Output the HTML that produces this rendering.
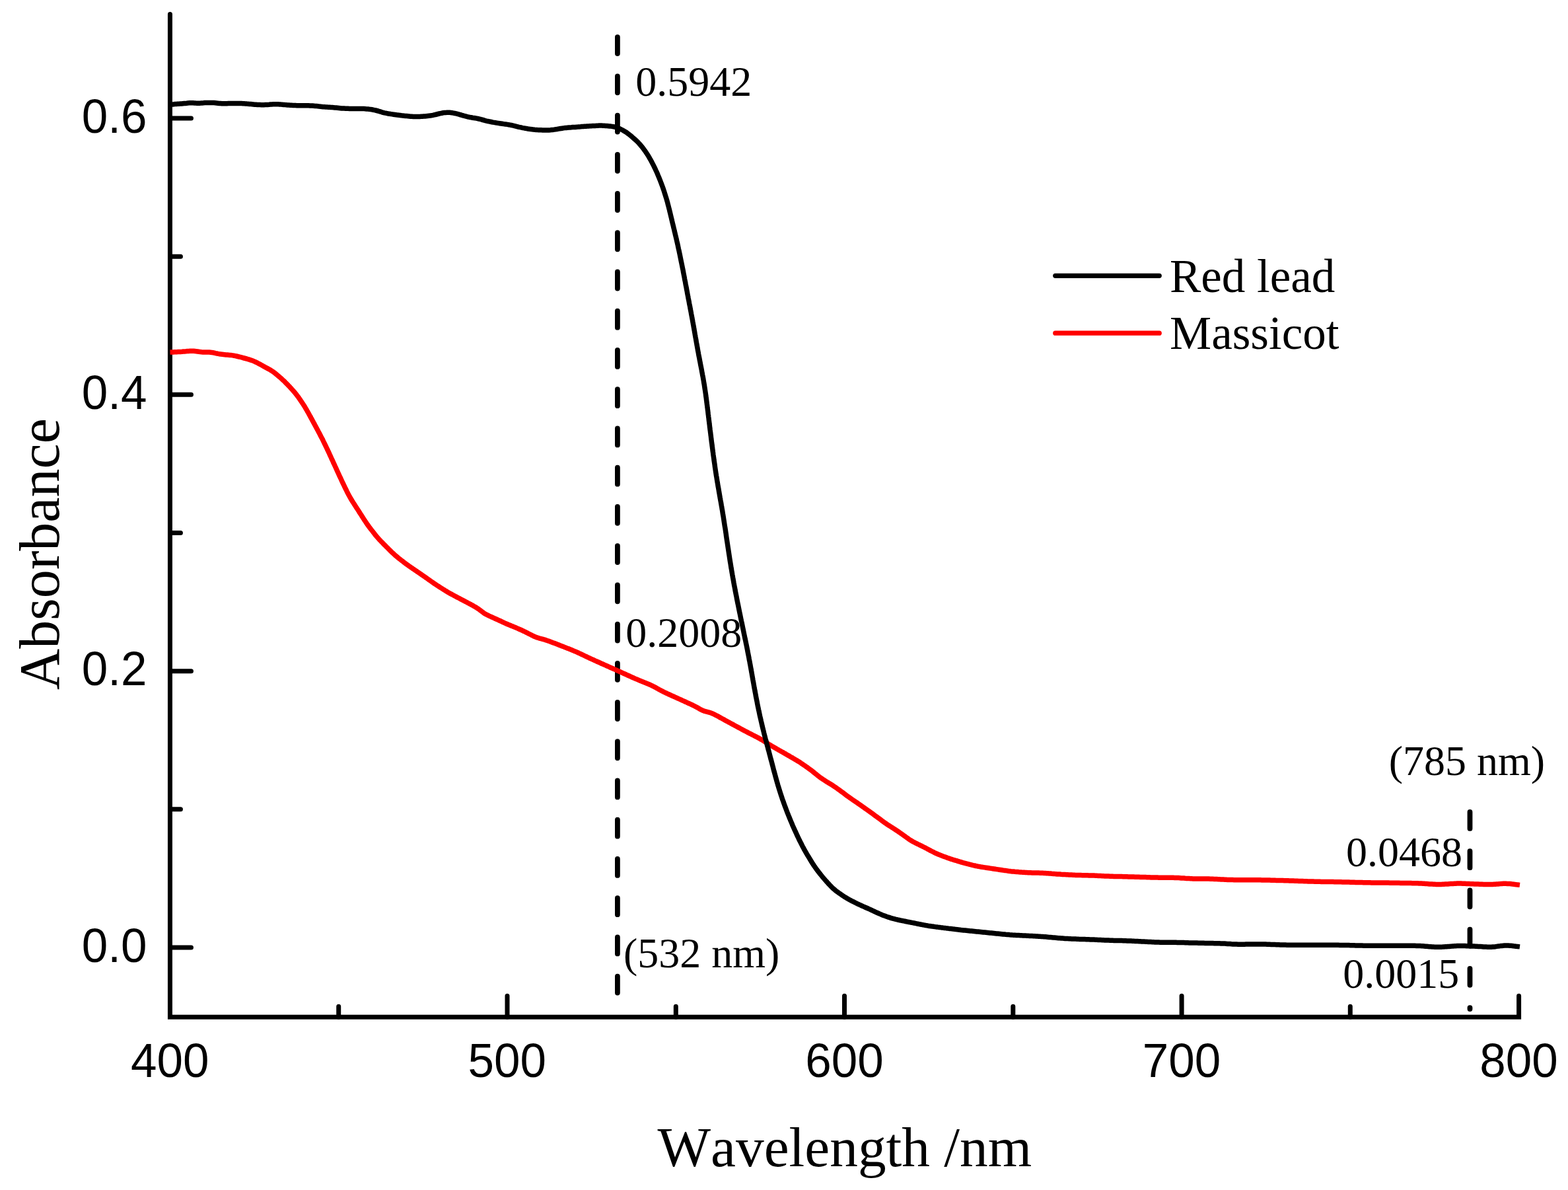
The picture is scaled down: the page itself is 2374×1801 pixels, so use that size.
<!DOCTYPE html>
<html><head><meta charset="utf-8"><title>Absorbance spectra</title>
<style>html,body{margin:0;padding:0;background:#fff;overflow:hidden;}svg{display:block;}text{fill:#000;font-kerning:none;}</style></head>
<body><svg width="2374" height="1801" viewBox="0 0 2374 1801">
<rect width="2374" height="1801" fill="#fff"/>
<path d="M257.45,21.4 L257.45,1539.3 L2299.6,1539.3 L2299.6,1507.3" fill="none" stroke="#000" stroke-width="7" stroke-linecap="round" stroke-linejoin="miter"/>
<path d="M512.7,1539.3 V1523.3 M768.0,1539.3 V1507.3 M1023.3,1539.3 V1523.3 M1278.5,1539.3 V1507.3 M1533.8,1539.3 V1523.3 M1789.1,1539.3 V1507.3 M2044.3,1539.3 V1523.3 M257.45,1434.0 H289.45 M257.45,1224.8 H273.45 M257.45,1015.7 H289.45 M257.45,806.5 H273.45 M257.45,597.3 H289.45 M257.45,388.2 H273.45 M257.45,179.0 H289.45" fill="none" stroke="#000" stroke-width="7" stroke-linecap="round"/>
<path d="M934.9,56.1 V1504" fill="none" stroke="#000" stroke-width="7.8" stroke-linecap="round" stroke-dasharray="25 34.23"/>
<path d="M2225.5,1228.9 V1527" fill="none" stroke="#000" stroke-width="7.8" stroke-linecap="round" stroke-dasharray="25 34.23"/>
<path d="M257.5,533.0 L261.0,532.9 L262.4,532.9 L264.0,532.8 L265.7,532.8 L267.6,532.7 L269.5,532.6 L271.5,532.5 L273.5,532.4 L275.5,532.3 L277.5,532.1 L279.5,531.9 L281.4,531.8 L283.4,531.6 L285.4,531.4 L287.4,531.3 L289.4,531.2 L291.4,531.2 L293.3,531.3 L295.3,531.5 L297.3,531.7 L299.2,532.0 L301.2,532.3 L303.1,532.6 L305.1,532.8 L307.0,532.9 L309.0,533.0 L311.0,533.0 L312.9,532.9 L314.9,532.9 L316.8,533.0 L318.8,533.2 L320.7,533.4 L322.6,533.7 L324.6,534.1 L326.5,534.6 L328.4,535.0 L330.4,535.4 L332.3,535.7 L334.3,536.1 L336.3,536.3 L338.3,536.5 L340.3,536.7 L342.2,536.9 L344.2,537.0 L346.2,537.2 L348.2,537.4 L350.2,537.6 L352.2,537.9 L354.1,538.2 L356.1,538.6 L358.0,539.0 L360.0,539.5 L361.9,540.0 L363.8,540.4 L365.8,540.9 L367.7,541.5 L369.6,542.0 L371.6,542.5 L373.5,543.0 L375.4,543.6 L377.3,544.2 L379.2,544.8 L381.1,545.4 L383.0,546.1 L384.8,546.9 L386.6,547.7 L388.4,548.5 L390.2,549.4 L391.9,550.4 L393.7,551.3 L395.4,552.3 L397.2,553.3 L398.9,554.3 L400.7,555.2 L402.4,556.2 L404.2,557.1 L406.0,558.1 L407.7,559.0 L409.4,560.0 L411.1,561.1 L412.8,562.2 L414.4,563.3 L416.0,564.5 L417.5,565.7 L419.1,567.0 L420.6,568.3 L422.1,569.6 L423.6,570.9 L425.2,572.2 L426.6,573.5 L428.1,574.9 L429.6,576.3 L431.0,577.6 L432.4,579.1 L433.8,580.5 L435.2,581.9 L436.6,583.4 L438.0,584.8 L439.3,586.3 L440.7,587.7 L442.0,589.2 L443.4,590.7 L444.7,592.2 L446.0,593.7 L447.3,595.3 L448.5,596.8 L449.7,598.4 L450.9,600.0 L452.1,601.6 L453.2,603.3 L454.4,604.9 L455.5,606.6 L456.6,608.2 L457.7,609.9 L458.8,611.5 L459.9,613.2 L461.0,614.9 L462.0,616.6 L463.0,618.3 L464.0,620.0 L465.0,621.8 L466.0,623.5 L467.0,625.3 L467.9,627.0 L468.9,628.8 L469.9,630.5 L470.8,632.3 L471.8,634.0 L472.7,635.8 L473.7,637.5 L474.6,639.3 L475.6,641.0 L476.5,642.8 L477.5,644.6 L478.4,646.3 L479.4,648.1 L480.3,649.9 L481.3,651.6 L482.2,653.4 L483.1,655.1 L484.1,656.9 L485.0,658.7 L485.9,660.5 L486.8,662.2 L487.8,664.0 L488.7,665.8 L489.5,667.6 L490.4,669.4 L491.3,671.2 L492.2,673.0 L493.0,674.8 L493.9,676.6 L494.8,678.4 L495.6,680.2 L496.5,682.0 L497.3,683.8 L498.2,685.6 L499.0,687.4 L499.8,689.3 L500.7,691.1 L501.5,692.9 L502.3,694.7 L503.2,696.5 L504.0,698.3 L504.8,700.2 L505.7,702.0 L506.5,703.8 L507.3,705.6 L508.2,707.4 L509.0,709.3 L509.8,711.1 L510.6,712.9 L511.5,714.7 L512.3,716.5 L513.1,718.4 L514.0,720.2 L514.8,722.0 L515.7,723.8 L516.5,725.6 L517.3,727.4 L518.2,729.2 L519.0,731.0 L519.9,732.8 L520.8,734.6 L521.6,736.4 L522.5,738.2 L523.4,740.0 L524.3,741.8 L525.1,743.6 L526.0,745.4 L527.0,747.2 L527.9,748.9 L528.9,750.7 L529.8,752.4 L530.8,754.1 L531.8,755.9 L532.9,757.6 L533.9,759.3 L535.0,761.0 L536.1,762.6 L537.1,764.3 L538.2,766.0 L539.3,767.7 L540.4,769.4 L541.5,771.0 L542.6,772.7 L543.6,774.4 L544.7,776.1 L545.8,777.8 L546.9,779.4 L547.9,781.1 L549.0,782.8 L550.1,784.5 L551.2,786.2 L552.3,787.9 L553.4,789.5 L554.5,791.2 L555.6,792.8 L556.8,794.5 L557.9,796.1 L559.1,797.7 L560.3,799.3 L561.5,800.9 L562.8,802.5 L564.0,804.0 L565.2,805.6 L566.5,807.2 L567.7,808.8 L568.9,810.3 L570.2,811.9 L571.5,813.4 L572.8,814.9 L574.1,816.4 L575.5,817.8 L576.9,819.3 L578.3,820.7 L579.7,822.1 L581.1,823.6 L582.5,825.0 L583.9,826.4 L585.3,827.8 L586.7,829.2 L588.1,830.6 L589.6,832.1 L591.0,833.5 L592.4,834.9 L593.8,836.2 L595.3,837.6 L596.8,839.0 L598.3,840.3 L599.8,841.6 L601.3,842.9 L602.8,844.2 L604.4,845.4 L606.0,846.7 L607.5,847.9 L609.1,849.1 L610.7,850.3 L612.3,851.6 L613.9,852.8 L615.5,853.9 L617.1,855.1 L618.7,856.3 L620.4,857.4 L622.0,858.6 L623.7,859.7 L625.3,860.8 L627.0,861.9 L628.6,863.1 L630.3,864.2 L631.9,865.3 L633.6,866.4 L635.2,867.6 L636.9,868.7 L638.5,869.8 L640.2,871.0 L641.8,872.1 L643.5,873.2 L645.1,874.4 L646.7,875.5 L648.4,876.7 L650.0,877.9 L651.6,879.0 L653.3,880.2 L654.9,881.3 L656.5,882.5 L658.2,883.6 L659.8,884.7 L661.5,885.8 L663.2,886.9 L664.9,888.0 L666.6,889.1 L668.2,890.1 L669.9,891.2 L671.6,892.3 L673.3,893.3 L675.0,894.4 L676.8,895.4 L678.5,896.4 L680.2,897.4 L681.9,898.4 L683.7,899.4 L685.4,900.3 L687.2,901.3 L689.0,902.2 L690.7,903.1 L692.5,904.1 L694.3,905.0 L696.1,905.9 L697.8,906.9 L699.6,907.8 L701.4,908.7 L703.1,909.7 L704.9,910.6 L706.7,911.5 L708.4,912.5 L710.2,913.4 L712.0,914.3 L713.7,915.3 L715.5,916.2 L717.2,917.2 L719.0,918.2 L720.7,919.2 L722.4,920.3 L724.0,921.4 L725.6,922.5 L727.2,923.7 L728.7,924.9 L730.3,926.1 L731.9,927.3 L733.5,928.4 L735.2,929.4 L736.9,930.3 L738.7,931.2 L740.5,932.1 L742.3,932.9 L744.1,933.7 L746.0,934.5 L747.8,935.4 L749.6,936.2 L751.4,937.0 L753.2,937.8 L755.1,938.7 L756.9,939.5 L758.7,940.3 L760.5,941.2 L762.3,942.0 L764.1,942.9 L766.0,943.7 L767.8,944.5 L769.6,945.3 L771.5,946.0 L773.3,946.8 L775.2,947.6 L777.0,948.3 L778.9,949.1 L780.7,949.8 L782.6,950.6 L784.4,951.4 L786.2,952.2 L788.1,953.0 L789.9,953.8 L791.7,954.7 L793.5,955.5 L795.3,956.4 L797.1,957.3 L798.9,958.2 L800.6,959.1 L802.4,960.0 L804.2,960.9 L806.0,961.8 L807.7,962.7 L809.6,963.5 L811.4,964.2 L813.2,964.9 L815.1,965.5 L817.0,966.1 L819.0,966.6 L820.9,967.1 L822.8,967.7 L824.7,968.2 L826.6,968.8 L828.5,969.5 L830.4,970.1 L832.3,970.8 L834.1,971.5 L836.0,972.2 L837.9,972.9 L839.8,973.6 L841.6,974.3 L843.5,975.0 L845.4,975.7 L847.2,976.5 L849.1,977.2 L851.0,977.9 L852.8,978.6 L854.7,979.4 L856.5,980.1 L858.4,980.9 L860.3,981.6 L862.1,982.3 L864.0,983.1 L865.8,983.8 L867.7,984.6 L869.5,985.4 L871.4,986.1 L873.2,986.9 L875.0,987.7 L876.8,988.6 L878.7,989.4 L880.5,990.3 L882.3,991.1 L884.1,992.0 L885.9,992.9 L887.7,993.7 L889.5,994.6 L891.3,995.4 L893.1,996.3 L894.9,997.1 L896.7,997.9 L898.6,998.7 L900.4,999.6 L902.2,1000.4 L904.0,1001.2 L905.9,1002.0 L907.7,1002.8 L909.5,1003.7 L911.3,1004.5 L913.2,1005.3 L915.0,1006.1 L916.8,1006.9 L918.6,1007.7 L920.5,1008.5 L922.3,1009.4 L924.1,1010.2 L926.0,1011.0 L927.8,1011.8 L929.6,1012.6 L931.4,1013.4 L933.3,1014.2 L935.1,1015.1 L936.9,1015.9 L938.7,1016.7 L940.6,1017.5 L942.4,1018.4 L944.2,1019.2 L946.0,1020.0 L947.8,1020.8 L949.7,1021.7 L951.5,1022.5 L953.3,1023.3 L955.1,1024.1 L957.0,1025.0 L958.8,1025.8 L960.6,1026.6 L962.4,1027.4 L964.3,1028.1 L966.1,1028.9 L968.0,1029.7 L969.8,1030.4 L971.7,1031.2 L973.5,1031.9 L975.4,1032.7 L977.3,1033.4 L979.1,1034.2 L980.9,1034.9 L982.8,1035.7 L984.6,1036.5 L986.4,1037.4 L988.2,1038.2 L990.0,1039.2 L991.8,1040.1 L993.5,1041.1 L995.2,1042.0 L997.0,1043.0 L998.7,1044.0 L1000.5,1044.9 L1002.3,1045.8 L1004.0,1046.8 L1005.8,1047.6 L1007.6,1048.5 L1009.4,1049.3 L1011.3,1050.2 L1013.1,1051.0 L1014.9,1051.8 L1016.7,1052.7 L1018.6,1053.5 L1020.4,1054.3 L1022.2,1055.1 L1024.0,1055.9 L1025.8,1056.8 L1027.7,1057.6 L1029.5,1058.4 L1031.3,1059.2 L1033.1,1060.1 L1035.0,1060.9 L1036.8,1061.7 L1038.6,1062.5 L1040.4,1063.4 L1042.2,1064.2 L1044.1,1065.0 L1045.9,1065.9 L1047.7,1066.7 L1049.5,1067.6 L1051.3,1068.5 L1053.0,1069.4 L1054.8,1070.3 L1056.5,1071.3 L1058.2,1072.3 L1059.9,1073.3 L1061.7,1074.2 L1063.4,1075.0 L1065.2,1075.7 L1067.0,1076.4 L1068.9,1076.9 L1070.8,1077.4 L1072.6,1077.9 L1074.5,1078.4 L1076.4,1079.0 L1078.2,1079.7 L1080.0,1080.5 L1081.8,1081.4 L1083.5,1082.3 L1085.3,1083.2 L1087.1,1084.1 L1088.8,1085.1 L1090.6,1086.1 L1092.3,1087.0 L1094.1,1088.0 L1095.8,1088.9 L1097.6,1089.9 L1099.3,1090.9 L1101.1,1091.8 L1102.8,1092.8 L1104.6,1093.7 L1106.4,1094.7 L1108.1,1095.6 L1109.9,1096.6 L1111.6,1097.6 L1113.4,1098.5 L1115.2,1099.5 L1116.9,1100.4 L1118.7,1101.4 L1120.4,1102.3 L1122.2,1103.3 L1124.0,1104.2 L1125.7,1105.2 L1127.5,1106.1 L1129.3,1107.0 L1131.0,1107.9 L1132.8,1108.9 L1134.6,1109.8 L1136.4,1110.7 L1138.2,1111.6 L1139.9,1112.5 L1141.7,1113.4 L1143.5,1114.3 L1145.3,1115.2 L1147.0,1116.1 L1148.8,1117.1 L1150.5,1118.1 L1152.3,1119.1 L1154.0,1120.1 L1155.7,1121.1 L1157.4,1122.2 L1159.1,1123.2 L1160.8,1124.3 L1162.5,1125.3 L1164.2,1126.4 L1165.9,1127.4 L1167.6,1128.5 L1169.3,1129.5 L1171.1,1130.5 L1172.8,1131.5 L1174.5,1132.5 L1176.2,1133.5 L1178.0,1134.5 L1179.7,1135.5 L1181.5,1136.5 L1183.2,1137.5 L1184.9,1138.4 L1186.7,1139.4 L1188.4,1140.4 L1190.2,1141.4 L1191.9,1142.4 L1193.6,1143.4 L1195.4,1144.4 L1197.1,1145.4 L1198.8,1146.4 L1200.6,1147.4 L1202.3,1148.4 L1204.0,1149.4 L1205.7,1150.4 L1207.4,1151.5 L1209.1,1152.6 L1210.8,1153.6 L1212.5,1154.7 L1214.1,1155.9 L1215.8,1157.0 L1217.4,1158.1 L1219.1,1159.2 L1220.7,1160.4 L1222.4,1161.5 L1224.0,1162.7 L1225.6,1163.9 L1227.2,1165.1 L1228.8,1166.3 L1230.4,1167.5 L1231.9,1168.7 L1233.5,1170.0 L1235.0,1171.3 L1236.6,1172.5 L1238.1,1173.8 L1239.7,1175.0 L1241.3,1176.2 L1242.9,1177.4 L1244.6,1178.5 L1246.2,1179.6 L1247.9,1180.7 L1249.6,1181.8 L1251.3,1182.9 L1253.0,1183.9 L1254.7,1185.0 L1256.4,1186.0 L1258.1,1187.1 L1259.8,1188.1 L1261.4,1189.2 L1263.1,1190.3 L1264.8,1191.4 L1266.4,1192.5 L1268.1,1193.7 L1269.7,1194.9 L1271.3,1196.0 L1272.9,1197.2 L1274.5,1198.4 L1276.1,1199.6 L1277.7,1200.8 L1279.3,1202.0 L1280.9,1203.2 L1282.5,1204.4 L1284.1,1205.6 L1285.8,1206.7 L1287.4,1207.9 L1289.0,1209.0 L1290.7,1210.2 L1292.3,1211.3 L1294.0,1212.4 L1295.6,1213.6 L1297.3,1214.7 L1298.9,1215.8 L1300.6,1217.0 L1302.2,1218.1 L1303.9,1219.3 L1305.5,1220.4 L1307.1,1221.6 L1308.8,1222.7 L1310.4,1223.9 L1312.0,1225.0 L1313.7,1226.2 L1315.3,1227.3 L1316.9,1228.5 L1318.5,1229.7 L1320.2,1230.8 L1321.8,1232.0 L1323.4,1233.2 L1325.0,1234.4 L1326.6,1235.6 L1328.2,1236.7 L1329.8,1237.9 L1331.4,1239.1 L1333.0,1240.3 L1334.6,1241.5 L1336.2,1242.7 L1337.9,1243.9 L1339.5,1245.1 L1341.1,1246.2 L1342.8,1247.4 L1344.4,1248.5 L1346.1,1249.6 L1347.8,1250.6 L1349.5,1251.7 L1351.2,1252.7 L1352.9,1253.8 L1354.5,1254.9 L1356.2,1256.0 L1357.9,1257.1 L1359.5,1258.2 L1361.2,1259.4 L1362.8,1260.5 L1364.4,1261.6 L1366.1,1262.8 L1367.7,1264.0 L1369.3,1265.1 L1370.9,1266.3 L1372.6,1267.5 L1374.2,1268.6 L1375.8,1269.8 L1377.5,1270.9 L1379.2,1271.9 L1380.9,1273.0 L1382.6,1274.0 L1384.4,1274.9 L1386.1,1275.8 L1387.9,1276.7 L1389.7,1277.6 L1391.5,1278.4 L1393.3,1279.3 L1395.1,1280.2 L1396.9,1281.1 L1398.7,1282.0 L1400.5,1282.9 L1402.2,1283.8 L1404.0,1284.8 L1405.8,1285.7 L1407.5,1286.6 L1409.3,1287.6 L1411.1,1288.5 L1412.9,1289.4 L1414.6,1290.3 L1416.4,1291.2 L1418.3,1292.0 L1420.1,1292.8 L1421.9,1293.6 L1423.8,1294.3 L1425.6,1295.0 L1427.5,1295.7 L1429.4,1296.4 L1431.3,1297.1 L1433.1,1297.8 L1435.0,1298.5 L1436.9,1299.1 L1438.8,1299.8 L1440.7,1300.4 L1442.6,1301.0 L1444.5,1301.6 L1446.4,1302.2 L1448.4,1302.7 L1450.3,1303.3 L1452.2,1303.9 L1454.1,1304.5 L1456.0,1305.0 L1457.9,1305.6 L1459.9,1306.1 L1461.8,1306.6 L1463.7,1307.1 L1465.7,1307.6 L1467.6,1308.1 L1469.5,1308.6 L1471.5,1309.1 L1473.4,1309.6 L1475.4,1310.0 L1477.3,1310.5 L1479.3,1310.9 L1481.2,1311.3 L1483.2,1311.6 L1485.2,1312.0 L1487.1,1312.3 L1489.1,1312.6 L1491.1,1312.9 L1493.1,1313.2 L1495.1,1313.5 L1497.0,1313.8 L1499.0,1314.1 L1501.0,1314.4 L1503.0,1314.7 L1504.9,1315.0 L1506.9,1315.3 L1508.9,1315.6 L1510.9,1315.9 L1512.9,1316.2 L1514.8,1316.5 L1516.8,1316.8 L1518.8,1317.1 L1520.8,1317.4 L1522.7,1317.6 L1524.7,1317.9 L1526.7,1318.2 L1528.7,1318.4 L1530.7,1318.7 L1532.7,1318.9 L1534.7,1319.1 L1536.6,1319.3 L1538.6,1319.4 L1540.6,1319.6 L1542.6,1319.8 L1544.6,1319.9 L1546.6,1320.1 L1548.6,1320.2 L1550.6,1320.3 L1552.6,1320.5 L1554.6,1320.6 L1556.6,1320.7 L1558.6,1320.8 L1560.6,1320.8 L1562.6,1320.9 L1564.6,1320.9 L1566.6,1321.0 L1568.6,1321.0 L1570.6,1321.1 L1572.6,1321.1 L1574.6,1321.2 L1576.6,1321.2 L1578.6,1321.3 L1580.6,1321.4 L1582.6,1321.5 L1584.6,1321.7 L1586.6,1321.8 L1588.6,1321.9 L1590.5,1322.1 L1592.5,1322.3 L1594.5,1322.4 L1596.5,1322.6 L1598.5,1322.7 L1600.5,1322.9 L1602.5,1323.0 L1604.5,1323.1 L1606.5,1323.3 L1608.5,1323.4 L1610.5,1323.5 L1612.5,1323.6 L1614.5,1323.7 L1616.5,1323.8 L1618.5,1323.9 L1620.5,1324.0 L1622.5,1324.1 L1624.5,1324.2 L1626.5,1324.3 L1628.5,1324.4 L1630.5,1324.4 L1632.5,1324.5 L1634.5,1324.6 L1636.5,1324.6 L1638.5,1324.7 L1640.5,1324.7 L1642.5,1324.7 L1644.5,1324.8 L1646.5,1324.8 L1648.5,1324.9 L1650.5,1324.9 L1652.5,1325.0 L1654.5,1325.1 L1656.5,1325.1 L1658.5,1325.2 L1660.5,1325.3 L1662.5,1325.4 L1664.5,1325.5 L1666.4,1325.6 L1668.4,1325.7 L1670.4,1325.8 L1672.4,1325.9 L1674.4,1326.0 L1676.4,1326.0 L1678.4,1326.1 L1680.4,1326.2 L1682.4,1326.3 L1684.4,1326.3 L1686.4,1326.4 L1688.4,1326.4 L1690.4,1326.5 L1692.4,1326.5 L1694.4,1326.5 L1696.4,1326.6 L1698.4,1326.6 L1700.4,1326.7 L1702.4,1326.7 L1704.4,1326.8 L1706.4,1326.8 L1708.4,1326.9 L1710.4,1326.9 L1712.4,1327.0 L1714.4,1327.0 L1716.4,1327.1 L1718.4,1327.2 L1720.4,1327.2 L1722.4,1327.3 L1724.4,1327.3 L1726.4,1327.4 L1728.4,1327.5 L1730.4,1327.5 L1732.4,1327.6 L1734.4,1327.6 L1736.4,1327.7 L1738.4,1327.8 L1740.4,1327.8 L1742.4,1327.9 L1744.4,1327.9 L1746.4,1328.0 L1748.4,1328.0 L1750.4,1328.1 L1752.4,1328.1 L1754.4,1328.2 L1756.4,1328.2 L1758.4,1328.2 L1760.4,1328.2 L1762.4,1328.2 L1764.4,1328.2 L1766.4,1328.2 L1768.4,1328.3 L1770.4,1328.3 L1772.4,1328.3 L1774.4,1328.3 L1776.4,1328.3 L1778.4,1328.4 L1780.4,1328.4 L1782.4,1328.5 L1784.4,1328.6 L1786.4,1328.7 L1788.4,1328.9 L1790.4,1329.0 L1792.4,1329.1 L1794.4,1329.3 L1796.4,1329.4 L1798.4,1329.5 L1800.4,1329.6 L1802.4,1329.7 L1804.3,1329.8 L1806.3,1329.9 L1808.3,1329.9 L1810.3,1330.0 L1812.3,1330.0 L1814.3,1330.0 L1816.3,1330.0 L1818.3,1330.0 L1820.3,1330.0 L1822.3,1330.0 L1824.3,1330.0 L1826.3,1330.0 L1828.3,1330.1 L1830.3,1330.1 L1832.3,1330.2 L1834.3,1330.3 L1836.3,1330.3 L1838.3,1330.4 L1840.3,1330.5 L1842.3,1330.6 L1844.3,1330.7 L1846.3,1330.8 L1848.3,1330.9 L1850.3,1331.0 L1852.3,1331.1 L1854.3,1331.2 L1856.3,1331.3 L1858.3,1331.4 L1860.3,1331.4 L1862.3,1331.5 L1864.3,1331.6 L1866.3,1331.6 L1868.3,1331.7 L1870.3,1331.7 L1872.3,1331.7 L1874.3,1331.8 L1876.3,1331.8 L1878.3,1331.8 L1880.3,1331.8 L1882.3,1331.8 L1884.3,1331.8 L1886.3,1331.8 L1888.3,1331.8 L1890.3,1331.8 L1892.3,1331.8 L1894.3,1331.8 L1896.3,1331.8 L1898.3,1331.8 L1900.3,1331.8 L1902.3,1331.8 L1904.3,1331.8 L1906.3,1331.8 L1908.3,1331.8 L1910.3,1331.9 L1912.3,1331.9 L1914.3,1331.9 L1916.3,1332.0 L1918.3,1332.0 L1920.3,1332.1 L1922.3,1332.1 L1924.3,1332.2 L1926.3,1332.2 L1928.3,1332.3 L1930.3,1332.3 L1932.3,1332.4 L1934.3,1332.4 L1936.3,1332.5 L1938.3,1332.5 L1940.3,1332.6 L1942.3,1332.6 L1944.3,1332.7 L1946.3,1332.7 L1948.3,1332.8 L1950.3,1332.8 L1952.3,1332.9 L1954.3,1333.0 L1956.3,1333.0 L1958.3,1333.1 L1960.3,1333.2 L1962.3,1333.2 L1964.3,1333.3 L1966.3,1333.4 L1968.3,1333.5 L1970.3,1333.5 L1972.3,1333.6 L1974.3,1333.7 L1976.3,1333.7 L1978.3,1333.8 L1980.3,1333.9 L1982.3,1333.9 L1984.3,1334.0 L1986.3,1334.1 L1988.3,1334.1 L1990.3,1334.2 L1992.3,1334.2 L1994.3,1334.3 L1996.3,1334.3 L1998.3,1334.3 L2000.3,1334.4 L2002.3,1334.4 L2004.3,1334.4 L2006.3,1334.5 L2008.3,1334.5 L2010.3,1334.5 L2012.3,1334.5 L2014.3,1334.6 L2016.3,1334.6 L2018.3,1334.6 L2020.3,1334.7 L2022.3,1334.7 L2024.3,1334.7 L2026.3,1334.8 L2028.3,1334.8 L2030.3,1334.8 L2032.3,1334.9 L2034.3,1334.9 L2036.3,1335.0 L2038.3,1335.0 L2040.3,1335.1 L2042.3,1335.1 L2044.3,1335.2 L2046.3,1335.2 L2048.3,1335.3 L2050.3,1335.3 L2052.3,1335.4 L2054.3,1335.4 L2056.3,1335.5 L2058.3,1335.5 L2060.3,1335.6 L2062.2,1335.6 L2064.2,1335.7 L2066.2,1335.7 L2068.2,1335.8 L2070.2,1335.8 L2072.2,1335.8 L2074.2,1335.8 L2076.2,1335.9 L2078.2,1335.9 L2080.2,1335.9 L2082.2,1335.9 L2084.2,1336.0 L2086.2,1336.0 L2088.2,1336.0 L2090.2,1336.0 L2092.2,1336.0 L2094.2,1336.1 L2096.2,1336.1 L2098.2,1336.1 L2100.2,1336.1 L2102.2,1336.1 L2104.2,1336.2 L2106.2,1336.2 L2108.2,1336.2 L2110.2,1336.2 L2112.2,1336.3 L2114.2,1336.3 L2116.2,1336.3 L2118.2,1336.3 L2120.2,1336.4 L2122.2,1336.4 L2124.2,1336.4 L2126.2,1336.5 L2128.2,1336.5 L2130.2,1336.5 L2132.2,1336.6 L2134.2,1336.6 L2136.2,1336.6 L2138.2,1336.7 L2140.2,1336.7 L2142.2,1336.7 L2144.2,1336.8 L2146.2,1336.8 L2148.2,1336.9 L2150.2,1337.0 L2152.2,1337.1 L2154.2,1337.2 L2156.2,1337.3 L2158.2,1337.5 L2160.2,1337.6 L2162.2,1337.7 L2164.2,1337.9 L2166.2,1338.0 L2168.2,1338.1 L2170.2,1338.2 L2172.2,1338.3 L2174.2,1338.4 L2176.2,1338.5 L2178.2,1338.5 L2180.2,1338.5 L2182.2,1338.4 L2184.2,1338.3 L2186.2,1338.2 L2188.2,1338.1 L2190.1,1338.0 L2192.1,1337.9 L2194.1,1337.7 L2196.1,1337.6 L2198.1,1337.5 L2200.1,1337.4 L2202.1,1337.3 L2204.1,1337.2 L2206.1,1337.1 L2208.1,1337.1 L2210.1,1337.1 L2212.1,1337.1 L2214.1,1337.2 L2216.1,1337.2 L2218.1,1337.3 L2220.1,1337.4 L2222.1,1337.5 L2224.1,1337.6 L2226.1,1337.7 L2228.1,1337.8 L2230.1,1337.8 L2232.1,1337.9 L2234.1,1338.0 L2236.1,1338.1 L2238.1,1338.1 L2240.1,1338.2 L2242.1,1338.3 L2244.1,1338.3 L2246.1,1338.4 L2248.1,1338.5 L2250.1,1338.5 L2252.1,1338.5 L2254.1,1338.6 L2256.1,1338.5 L2258.1,1338.5 L2260.1,1338.4 L2262.0,1338.3 L2264.0,1338.2 L2266.0,1338.0 L2268.0,1337.9 L2270.0,1337.7 L2272.0,1337.6 L2274.0,1337.4 L2276.0,1337.3 L2278.0,1337.3 L2280.0,1337.3 L2282.0,1337.4 L2283.9,1337.5 L2285.9,1337.6 L2287.9,1337.8 L2289.8,1338.1 L2291.7,1338.3 L2293.5,1338.5 L2295.2,1338.7 L2296.7,1338.9 L2298.0,1339.0 L2301.0,1339.4" fill="none" stroke="#ff0000" stroke-width="7.5" stroke-linejoin="round"/>
<path d="M257.0,158.5 L260.5,158.1 L261.9,157.9 L263.4,157.8 L265.2,157.6 L267.0,157.5 L269.0,157.3 L270.9,157.2 L272.9,157.1 L274.9,157.0 L276.9,156.8 L278.8,156.6 L280.8,156.4 L282.7,156.2 L284.6,155.9 L286.6,155.8 L288.5,155.7 L290.4,155.7 L292.3,155.8 L294.3,155.9 L296.2,156.1 L298.2,156.2 L300.1,156.2 L302.1,156.2 L304.0,156.1 L306.0,155.9 L308.0,155.8 L310.0,155.6 L312.0,155.5 L314.0,155.4 L316.0,155.4 L317.9,155.4 L319.9,155.4 L321.9,155.5 L323.9,155.6 L325.9,155.8 L327.9,156.0 L329.8,156.2 L331.8,156.4 L333.8,156.5 L335.8,156.7 L337.7,156.7 L339.7,156.8 L341.7,156.7 L343.7,156.7 L345.7,156.6 L347.7,156.6 L349.7,156.5 L351.7,156.5 L353.7,156.4 L355.7,156.4 L357.7,156.4 L359.7,156.4 L361.7,156.5 L363.7,156.5 L365.7,156.6 L367.7,156.7 L369.7,156.8 L371.7,156.9 L373.7,157.1 L375.7,157.2 L377.7,157.4 L379.7,157.6 L381.6,157.8 L383.6,158.0 L385.6,158.2 L387.6,158.3 L389.6,158.5 L391.6,158.6 L393.6,158.6 L395.6,158.7 L397.6,158.7 L399.6,158.7 L401.6,158.6 L403.6,158.5 L405.5,158.4 L407.5,158.3 L409.5,158.1 L411.5,157.9 L413.5,157.8 L415.5,157.7 L417.5,157.7 L419.4,157.7 L421.4,157.8 L423.4,157.9 L425.4,158.1 L427.4,158.2 L429.4,158.4 L431.4,158.6 L433.4,158.7 L435.4,158.9 L437.4,159.0 L439.4,159.2 L441.4,159.3 L443.4,159.4 L445.3,159.5 L447.3,159.6 L449.3,159.7 L451.3,159.7 L453.3,159.7 L455.3,159.8 L457.3,159.8 L459.3,159.8 L461.3,159.8 L463.3,159.8 L465.3,159.8 L467.3,159.8 L469.3,159.9 L471.3,159.9 L473.3,160.0 L475.3,160.2 L477.3,160.4 L479.3,160.6 L481.2,160.8 L483.2,161.1 L485.2,161.3 L487.2,161.5 L489.2,161.7 L491.2,161.8 L493.2,162.0 L495.1,162.1 L497.1,162.2 L499.1,162.3 L501.1,162.5 L503.1,162.6 L505.1,162.8 L507.1,163.0 L509.1,163.1 L511.1,163.3 L513.1,163.5 L515.1,163.7 L517.1,163.9 L519.1,164.0 L521.1,164.1 L523.0,164.2 L525.0,164.3 L527.0,164.3 L529.0,164.4 L531.0,164.4 L533.0,164.4 L535.0,164.4 L537.0,164.4 L539.0,164.4 L541.0,164.4 L543.0,164.4 L545.0,164.4 L547.0,164.5 L549.0,164.5 L551.0,164.6 L553.0,164.7 L555.0,164.9 L557.0,165.0 L559.0,165.3 L560.9,165.5 L562.9,165.8 L564.9,166.2 L566.8,166.6 L568.8,167.0 L570.7,167.5 L572.6,168.0 L574.5,168.6 L576.4,169.2 L578.2,169.8 L580.1,170.3 L582.1,170.8 L584.0,171.2 L585.9,171.6 L587.9,172.0 L589.9,172.3 L591.8,172.6 L593.8,172.9 L595.8,173.2 L597.8,173.5 L599.8,173.8 L601.7,174.1 L603.7,174.3 L605.7,174.5 L607.7,174.8 L609.7,175.0 L611.7,175.2 L613.7,175.4 L615.6,175.6 L617.6,175.8 L619.6,176.0 L621.6,176.2 L623.6,176.3 L625.6,176.4 L627.6,176.5 L629.6,176.6 L631.6,176.6 L633.6,176.5 L635.6,176.4 L637.6,176.3 L639.5,176.2 L641.5,176.0 L643.5,175.9 L645.5,175.7 L647.5,175.5 L649.5,175.3 L651.5,175.1 L653.4,174.7 L655.4,174.4 L657.3,173.9 L659.2,173.5 L661.1,173.0 L663.1,172.5 L665.0,172.0 L666.9,171.6 L668.9,171.2 L670.9,170.8 L672.8,170.6 L674.8,170.4 L676.7,170.3 L678.7,170.3 L680.7,170.3 L682.6,170.5 L684.6,170.8 L686.6,171.1 L688.5,171.5 L690.5,171.9 L692.4,172.4 L694.3,172.9 L696.2,173.5 L698.2,174.0 L700.1,174.6 L702.0,175.2 L703.9,175.7 L705.8,176.2 L707.7,176.7 L709.7,177.1 L711.6,177.5 L713.6,177.8 L715.6,178.2 L717.6,178.5 L719.5,178.8 L721.5,179.1 L723.4,179.5 L725.4,180.0 L727.3,180.4 L729.2,181.0 L731.1,181.5 L733.0,182.0 L734.9,182.6 L736.9,183.1 L738.8,183.5 L740.7,183.9 L742.7,184.3 L744.7,184.7 L746.6,185.1 L748.6,185.4 L750.6,185.8 L752.5,186.1 L754.5,186.4 L756.5,186.7 L758.5,187.0 L760.5,187.3 L762.4,187.6 L764.4,187.9 L766.4,188.1 L768.4,188.4 L770.3,188.8 L772.3,189.1 L774.3,189.5 L776.2,189.9 L778.1,190.3 L780.1,190.8 L782.0,191.3 L783.9,191.8 L785.9,192.3 L787.8,192.7 L789.8,193.2 L791.7,193.6 L793.7,193.9 L795.6,194.3 L797.6,194.6 L799.6,195.0 L801.6,195.3 L803.5,195.6 L805.5,195.8 L807.5,196.1 L809.5,196.3 L811.5,196.4 L813.5,196.6 L815.4,196.7 L817.4,196.8 L819.4,196.8 L821.4,196.9 L823.4,197.0 L825.4,197.0 L827.4,197.0 L829.4,197.0 L831.4,196.9 L833.4,196.8 L835.4,196.6 L837.4,196.4 L839.3,196.1 L841.3,195.8 L843.3,195.5 L845.2,195.1 L847.2,194.8 L849.2,194.5 L851.1,194.2 L853.1,193.9 L855.1,193.6 L857.1,193.4 L859.1,193.2 L861.1,193.0 L863.1,192.9 L865.1,192.8 L867.0,192.6 L869.0,192.5 L871.0,192.4 L873.0,192.2 L875.0,192.1 L877.0,191.9 L879.0,191.8 L881.0,191.6 L883.0,191.5 L885.0,191.3 L887.0,191.2 L889.0,191.0 L891.0,190.9 L893.0,190.8 L895.0,190.7 L897.0,190.6 L899.0,190.5 L901.0,190.4 L903.0,190.3 L905.0,190.2 L906.9,190.1 L908.9,190.1 L910.9,190.1 L912.9,190.2 L914.9,190.2 L916.9,190.4 L918.9,190.5 L920.9,190.7 L922.9,190.9 L924.8,191.1 L926.8,191.4 L928.7,191.7 L930.7,192.2 L932.6,192.7 L934.4,193.3 L936.3,194.0 L938.1,194.8 L939.9,195.6 L941.7,196.5 L943.5,197.4 L945.2,198.4 L946.9,199.4 L948.6,200.5 L950.2,201.7 L951.8,202.9 L953.3,204.1 L954.9,205.4 L956.4,206.7 L957.9,208.0 L959.4,209.3 L960.9,210.6 L962.4,211.9 L963.9,213.3 L965.3,214.7 L966.7,216.1 L968.0,217.6 L969.4,219.1 L970.6,220.6 L971.9,222.2 L973.1,223.7 L974.3,225.3 L975.5,226.9 L976.7,228.5 L977.8,230.2 L978.9,231.8 L980.0,233.5 L981.1,235.2 L982.1,236.9 L983.1,238.6 L984.1,240.4 L985.1,242.1 L986.0,243.8 L987.0,245.6 L987.9,247.4 L988.8,249.1 L989.7,250.9 L990.6,252.7 L991.5,254.5 L992.3,256.3 L993.1,258.1 L994.0,259.9 L994.8,261.8 L995.6,263.6 L996.3,265.4 L997.1,267.3 L997.9,269.1 L998.6,271.0 L999.4,272.8 L1000.1,274.7 L1000.8,276.5 L1001.5,278.4 L1002.2,280.3 L1002.9,282.1 L1003.6,284.0 L1004.2,285.9 L1004.9,287.8 L1005.5,289.7 L1006.1,291.6 L1006.7,293.5 L1007.3,295.4 L1007.9,297.3 L1008.5,299.2 L1009.1,301.1 L1009.6,303.0 L1010.2,304.9 L1010.7,306.8 L1011.2,308.8 L1011.7,310.7 L1012.2,312.6 L1012.7,314.6 L1013.2,316.5 L1013.7,318.4 L1014.1,320.4 L1014.6,322.3 L1015.1,324.3 L1015.5,326.2 L1016.0,328.2 L1016.5,330.1 L1016.9,332.0 L1017.4,334.0 L1017.8,335.9 L1018.3,337.9 L1018.8,339.8 L1019.3,341.8 L1019.7,343.7 L1020.2,345.6 L1020.7,347.6 L1021.1,349.5 L1021.6,351.5 L1022.1,353.4 L1022.5,355.4 L1023.0,357.3 L1023.5,359.3 L1023.9,361.2 L1024.4,363.2 L1024.8,365.1 L1025.3,367.0 L1025.7,369.0 L1026.2,370.9 L1026.6,372.9 L1027.0,374.9 L1027.4,376.8 L1027.9,378.8 L1028.3,380.7 L1028.7,382.7 L1029.1,384.6 L1029.5,386.6 L1029.9,388.5 L1030.3,390.5 L1030.7,392.5 L1031.1,394.4 L1031.5,396.4 L1031.9,398.3 L1032.3,400.3 L1032.7,402.3 L1033.1,404.2 L1033.5,406.2 L1033.9,408.1 L1034.3,410.1 L1034.6,412.1 L1035.0,414.0 L1035.4,416.0 L1035.8,418.0 L1036.2,419.9 L1036.5,421.9 L1036.9,423.9 L1037.3,425.8 L1037.7,427.8 L1038.0,429.7 L1038.4,431.7 L1038.8,433.7 L1039.2,435.6 L1039.5,437.6 L1039.9,439.6 L1040.3,441.5 L1040.6,443.5 L1041.0,445.5 L1041.4,447.4 L1041.8,449.4 L1042.1,451.4 L1042.5,453.3 L1042.9,455.3 L1043.3,457.3 L1043.6,459.2 L1044.0,461.2 L1044.4,463.1 L1044.8,465.1 L1045.1,467.1 L1045.5,469.0 L1045.9,471.0 L1046.3,473.0 L1046.6,474.9 L1047.0,476.9 L1047.4,478.9 L1047.7,480.8 L1048.1,482.8 L1048.5,484.8 L1048.8,486.7 L1049.2,488.7 L1049.5,490.7 L1049.9,492.6 L1050.2,494.6 L1050.6,496.6 L1050.9,498.5 L1051.3,500.5 L1051.6,502.5 L1052.0,504.5 L1052.3,506.4 L1052.7,508.4 L1053.0,510.4 L1053.4,512.3 L1053.7,514.3 L1054.1,516.3 L1054.4,518.2 L1054.8,520.2 L1055.1,522.2 L1055.5,524.1 L1055.8,526.1 L1056.2,528.1 L1056.5,530.1 L1056.9,532.0 L1057.3,534.0 L1057.6,535.9 L1058.0,537.9 L1058.4,539.9 L1058.8,541.8 L1059.1,543.8 L1059.5,545.8 L1059.9,547.7 L1060.3,549.7 L1060.6,551.7 L1061.0,553.6 L1061.4,555.6 L1061.8,557.6 L1062.2,559.5 L1062.5,561.5 L1062.9,563.4 L1063.3,565.4 L1063.6,567.4 L1064.0,569.3 L1064.4,571.3 L1064.7,573.3 L1065.1,575.2 L1065.4,577.2 L1065.7,579.2 L1066.1,581.2 L1066.4,583.1 L1066.7,585.1 L1067.0,587.1 L1067.3,589.1 L1067.6,591.0 L1067.9,593.0 L1068.2,595.0 L1068.5,597.0 L1068.7,598.9 L1069.0,600.9 L1069.3,602.9 L1069.5,604.9 L1069.8,606.9 L1070.0,608.9 L1070.3,610.8 L1070.5,612.8 L1070.8,614.8 L1071.0,616.8 L1071.3,618.8 L1071.5,620.8 L1071.8,622.8 L1072.0,624.7 L1072.2,626.7 L1072.5,628.7 L1072.7,630.7 L1073.0,632.7 L1073.2,634.7 L1073.4,636.7 L1073.7,638.6 L1073.9,640.6 L1074.2,642.6 L1074.4,644.6 L1074.6,646.6 L1074.9,648.6 L1075.1,650.5 L1075.4,652.5 L1075.6,654.5 L1075.9,656.5 L1076.1,658.5 L1076.4,660.5 L1076.6,662.5 L1076.8,664.4 L1077.1,666.4 L1077.3,668.4 L1077.6,670.4 L1077.9,672.4 L1078.1,674.4 L1078.4,676.3 L1078.6,678.3 L1078.9,680.3 L1079.1,682.3 L1079.4,684.3 L1079.7,686.3 L1079.9,688.2 L1080.2,690.2 L1080.5,692.2 L1080.8,694.2 L1081.0,696.2 L1081.3,698.1 L1081.6,700.1 L1081.9,702.1 L1082.2,704.1 L1082.4,706.1 L1082.7,708.0 L1083.0,710.0 L1083.3,712.0 L1083.6,714.0 L1083.9,716.0 L1084.2,717.9 L1084.5,719.9 L1084.9,721.9 L1085.2,723.9 L1085.5,725.8 L1085.8,727.8 L1086.1,729.8 L1086.5,731.7 L1086.8,733.7 L1087.1,735.7 L1087.5,737.7 L1087.8,739.6 L1088.2,741.6 L1088.5,743.6 L1088.8,745.5 L1089.2,747.5 L1089.5,749.5 L1089.9,751.4 L1090.2,753.4 L1090.6,755.4 L1090.9,757.4 L1091.3,759.3 L1091.6,761.3 L1092.0,763.3 L1092.3,765.2 L1092.7,767.2 L1093.0,769.2 L1093.3,771.1 L1093.7,773.1 L1094.0,775.1 L1094.3,777.1 L1094.6,779.0 L1095.0,781.0 L1095.3,783.0 L1095.6,785.0 L1095.9,786.9 L1096.2,788.9 L1096.5,790.9 L1096.8,792.9 L1097.1,794.8 L1097.4,796.8 L1097.8,798.8 L1098.1,800.8 L1098.4,802.7 L1098.7,804.7 L1099.0,806.7 L1099.3,808.7 L1099.5,810.7 L1099.8,812.6 L1100.1,814.6 L1100.4,816.6 L1100.7,818.6 L1101.0,820.5 L1101.3,822.5 L1101.6,824.5 L1101.9,826.5 L1102.2,828.5 L1102.5,830.4 L1102.8,832.4 L1103.1,834.4 L1103.4,836.4 L1103.7,838.3 L1104.0,840.3 L1104.3,842.3 L1104.6,844.3 L1104.9,846.3 L1105.2,848.2 L1105.5,850.2 L1105.9,852.2 L1106.2,854.2 L1106.5,856.1 L1106.8,858.1 L1107.1,860.1 L1107.5,862.0 L1107.8,864.0 L1108.1,866.0 L1108.5,868.0 L1108.8,869.9 L1109.2,871.9 L1109.5,873.9 L1109.9,875.8 L1110.2,877.8 L1110.6,879.8 L1110.9,881.7 L1111.3,883.7 L1111.6,885.7 L1112.0,887.6 L1112.4,889.6 L1112.8,891.6 L1113.1,893.5 L1113.5,895.5 L1113.9,897.5 L1114.3,899.4 L1114.7,901.4 L1115.1,903.3 L1115.4,905.3 L1115.8,907.3 L1116.2,909.2 L1116.6,911.2 L1117.0,913.2 L1117.4,915.1 L1117.8,917.1 L1118.2,919.0 L1118.6,921.0 L1119.0,923.0 L1119.4,924.9 L1119.8,926.9 L1120.2,928.8 L1120.6,930.8 L1121.0,932.7 L1121.4,934.7 L1121.8,936.7 L1122.2,938.6 L1122.6,940.6 L1123.1,942.5 L1123.5,944.5 L1123.9,946.5 L1124.3,948.4 L1124.7,950.4 L1125.1,952.3 L1125.5,954.3 L1125.9,956.2 L1126.3,958.2 L1126.7,960.2 L1127.1,962.1 L1127.5,964.1 L1127.9,966.0 L1128.4,968.0 L1128.8,970.0 L1129.2,971.9 L1129.6,973.9 L1130.0,975.8 L1130.4,977.8 L1130.8,979.7 L1131.2,981.7 L1131.6,983.7 L1131.9,985.6 L1132.3,987.6 L1132.7,989.6 L1133.1,991.5 L1133.5,993.5 L1133.9,995.4 L1134.2,997.4 L1134.6,999.4 L1135.0,1001.3 L1135.3,1003.3 L1135.7,1005.3 L1136.1,1007.2 L1136.4,1009.2 L1136.8,1011.2 L1137.1,1013.1 L1137.5,1015.1 L1137.8,1017.1 L1138.2,1019.0 L1138.5,1021.0 L1138.9,1023.0 L1139.2,1025.0 L1139.6,1026.9 L1139.9,1028.9 L1140.3,1030.9 L1140.6,1032.8 L1141.0,1034.8 L1141.3,1036.8 L1141.7,1038.7 L1142.0,1040.7 L1142.4,1042.7 L1142.8,1044.6 L1143.1,1046.6 L1143.5,1048.6 L1143.9,1050.5 L1144.2,1052.5 L1144.6,1054.5 L1145.0,1056.4 L1145.4,1058.4 L1145.8,1060.4 L1146.2,1062.3 L1146.5,1064.3 L1146.9,1066.2 L1147.3,1068.2 L1147.7,1070.2 L1148.1,1072.1 L1148.5,1074.1 L1149.0,1076.0 L1149.4,1078.0 L1149.8,1079.9 L1150.2,1081.9 L1150.6,1083.8 L1151.1,1085.8 L1151.5,1087.7 L1152.0,1089.7 L1152.4,1091.6 L1152.9,1093.6 L1153.3,1095.5 L1153.8,1097.5 L1154.2,1099.4 L1154.7,1101.4 L1155.2,1103.3 L1155.7,1105.3 L1156.2,1107.2 L1156.6,1109.1 L1157.1,1111.1 L1157.6,1113.0 L1158.1,1114.9 L1158.6,1116.9 L1159.1,1118.8 L1159.7,1120.7 L1160.2,1122.7 L1160.7,1124.6 L1161.2,1126.5 L1161.7,1128.5 L1162.2,1130.4 L1162.7,1132.3 L1163.2,1134.3 L1163.8,1136.2 L1164.3,1138.1 L1164.8,1140.1 L1165.3,1142.0 L1165.8,1143.9 L1166.3,1145.9 L1166.8,1147.8 L1167.3,1149.7 L1167.9,1151.7 L1168.4,1153.6 L1168.9,1155.5 L1169.4,1157.5 L1169.9,1159.4 L1170.4,1161.3 L1170.9,1163.3 L1171.4,1165.2 L1171.9,1167.1 L1172.5,1169.1 L1173.0,1171.0 L1173.5,1172.9 L1174.0,1174.9 L1174.6,1176.8 L1175.1,1178.7 L1175.6,1180.6 L1176.2,1182.6 L1176.7,1184.5 L1177.3,1186.4 L1177.8,1188.3 L1178.4,1190.2 L1179.0,1192.2 L1179.6,1194.1 L1180.2,1196.0 L1180.8,1197.9 L1181.4,1199.8 L1182.0,1201.7 L1182.6,1203.6 L1183.3,1205.5 L1183.9,1207.4 L1184.5,1209.3 L1185.2,1211.1 L1185.9,1213.0 L1186.5,1214.9 L1187.2,1216.8 L1187.9,1218.7 L1188.6,1220.6 L1189.3,1222.4 L1190.0,1224.3 L1190.7,1226.2 L1191.4,1228.0 L1192.1,1229.9 L1192.9,1231.7 L1193.6,1233.6 L1194.4,1235.5 L1195.1,1237.3 L1195.9,1239.2 L1196.6,1241.0 L1197.4,1242.9 L1198.2,1244.7 L1199.0,1246.5 L1199.7,1248.4 L1200.5,1250.2 L1201.3,1252.0 L1202.1,1253.9 L1203.0,1255.7 L1203.8,1257.5 L1204.6,1259.3 L1205.5,1261.1 L1206.3,1263.0 L1207.1,1264.8 L1208.0,1266.6 L1208.9,1268.4 L1209.7,1270.2 L1210.6,1272.0 L1211.5,1273.8 L1212.4,1275.5 L1213.3,1277.3 L1214.2,1279.1 L1215.1,1280.9 L1216.0,1282.6 L1217.0,1284.4 L1217.9,1286.2 L1218.9,1287.9 L1219.9,1289.6 L1220.9,1291.4 L1221.9,1293.1 L1222.9,1294.8 L1224.0,1296.5 L1225.0,1298.2 L1226.0,1299.9 L1227.1,1301.6 L1228.1,1303.4 L1229.2,1305.1 L1230.2,1306.7 L1231.3,1308.4 L1232.4,1310.1 L1233.5,1311.7 L1234.7,1313.4 L1235.8,1315.0 L1237.0,1316.6 L1238.2,1318.2 L1239.5,1319.8 L1240.7,1321.3 L1241.9,1322.9 L1243.2,1324.5 L1244.4,1326.0 L1245.7,1327.6 L1247.0,1329.1 L1248.3,1330.6 L1249.6,1332.1 L1250.9,1333.6 L1252.3,1335.1 L1253.6,1336.6 L1255.0,1338.1 L1256.3,1339.5 L1257.7,1341.0 L1259.1,1342.4 L1260.5,1343.8 L1262.0,1345.1 L1263.5,1346.4 L1265.0,1347.7 L1266.6,1348.9 L1268.2,1350.1 L1269.8,1351.3 L1271.5,1352.4 L1273.1,1353.5 L1274.7,1354.7 L1276.4,1355.8 L1278.1,1356.9 L1279.8,1357.9 L1281.5,1359.0 L1283.2,1360.0 L1284.9,1361.0 L1286.7,1362.0 L1288.4,1362.9 L1290.2,1363.8 L1292.0,1364.7 L1293.8,1365.6 L1295.6,1366.5 L1297.3,1367.4 L1299.2,1368.3 L1301.0,1369.1 L1302.8,1369.9 L1304.6,1370.8 L1306.4,1371.6 L1308.3,1372.4 L1310.1,1373.2 L1311.9,1374.0 L1313.7,1374.8 L1315.6,1375.6 L1317.4,1376.4 L1319.2,1377.3 L1321.0,1378.1 L1322.8,1379.0 L1324.6,1379.8 L1326.5,1380.7 L1328.3,1381.5 L1330.1,1382.3 L1331.9,1383.1 L1333.8,1383.9 L1335.6,1384.7 L1337.5,1385.4 L1339.3,1386.1 L1341.2,1386.8 L1343.1,1387.5 L1345.0,1388.1 L1346.9,1388.7 L1348.8,1389.3 L1350.7,1389.9 L1352.6,1390.4 L1354.6,1390.9 L1356.5,1391.4 L1358.5,1391.8 L1360.4,1392.3 L1362.4,1392.7 L1364.3,1393.1 L1366.3,1393.5 L1368.2,1393.9 L1370.2,1394.3 L1372.2,1394.7 L1374.1,1395.1 L1376.1,1395.5 L1378.0,1395.9 L1380.0,1396.3 L1382.0,1396.6 L1383.9,1397.0 L1385.9,1397.4 L1387.8,1397.8 L1389.8,1398.2 L1391.8,1398.6 L1393.7,1399.0 L1395.7,1399.4 L1397.7,1399.8 L1399.6,1400.1 L1401.6,1400.5 L1403.6,1400.8 L1405.5,1401.2 L1407.5,1401.5 L1409.5,1401.8 L1411.5,1402.1 L1413.4,1402.3 L1415.4,1402.6 L1417.4,1402.9 L1419.4,1403.1 L1421.4,1403.4 L1423.4,1403.6 L1425.3,1403.9 L1427.3,1404.1 L1429.3,1404.4 L1431.3,1404.6 L1433.3,1404.9 L1435.3,1405.1 L1437.2,1405.4 L1439.2,1405.6 L1441.2,1405.8 L1443.2,1406.1 L1445.2,1406.3 L1447.2,1406.6 L1449.2,1406.8 L1451.1,1407.0 L1453.1,1407.2 L1455.1,1407.5 L1457.1,1407.7 L1459.1,1407.9 L1461.1,1408.1 L1463.1,1408.3 L1465.1,1408.5 L1467.1,1408.7 L1469.0,1408.9 L1471.0,1409.1 L1473.0,1409.3 L1475.0,1409.5 L1477.0,1409.7 L1479.0,1409.9 L1481.0,1410.1 L1483.0,1410.3 L1485.0,1410.5 L1487.0,1410.7 L1488.9,1410.9 L1490.9,1411.1 L1492.9,1411.3 L1494.9,1411.5 L1496.9,1411.7 L1498.9,1411.9 L1500.9,1412.1 L1502.9,1412.3 L1504.9,1412.5 L1506.9,1412.7 L1508.8,1412.9 L1510.8,1413.1 L1512.8,1413.3 L1514.8,1413.5 L1516.8,1413.7 L1518.8,1413.9 L1520.8,1414.1 L1522.8,1414.3 L1524.8,1414.4 L1526.8,1414.6 L1528.8,1414.8 L1530.7,1414.9 L1532.7,1415.1 L1534.7,1415.2 L1536.7,1415.3 L1538.7,1415.4 L1540.7,1415.5 L1542.7,1415.6 L1544.7,1415.7 L1546.7,1415.8 L1548.7,1415.9 L1550.7,1416.0 L1552.7,1416.1 L1554.7,1416.2 L1556.7,1416.3 L1558.7,1416.4 L1560.7,1416.5 L1562.7,1416.6 L1564.7,1416.7 L1566.7,1416.8 L1568.7,1416.9 L1570.7,1417.0 L1572.7,1417.2 L1574.7,1417.3 L1576.7,1417.4 L1578.7,1417.5 L1580.7,1417.7 L1582.7,1417.8 L1584.7,1418.0 L1586.6,1418.2 L1588.6,1418.4 L1590.6,1418.6 L1592.6,1418.8 L1594.6,1419.0 L1596.6,1419.1 L1598.6,1419.3 L1600.6,1419.5 L1602.6,1419.7 L1604.6,1419.8 L1606.6,1420.0 L1608.6,1420.1 L1610.6,1420.2 L1612.5,1420.4 L1614.5,1420.5 L1616.5,1420.6 L1618.5,1420.7 L1620.5,1420.8 L1622.5,1420.9 L1624.5,1421.0 L1626.5,1421.1 L1628.5,1421.1 L1630.5,1421.2 L1632.5,1421.3 L1634.5,1421.4 L1636.5,1421.4 L1638.5,1421.5 L1640.5,1421.6 L1642.5,1421.6 L1644.5,1421.7 L1646.5,1421.7 L1648.5,1421.8 L1650.5,1421.9 L1652.5,1422.0 L1654.5,1422.0 L1656.5,1422.1 L1658.5,1422.2 L1660.5,1422.3 L1662.5,1422.4 L1664.5,1422.5 L1666.5,1422.6 L1668.5,1422.7 L1670.5,1422.8 L1672.5,1422.9 L1674.5,1423.0 L1676.5,1423.0 L1678.5,1423.1 L1680.5,1423.2 L1682.5,1423.3 L1684.5,1423.3 L1686.5,1423.4 L1688.5,1423.4 L1690.5,1423.5 L1692.5,1423.5 L1694.5,1423.5 L1696.5,1423.6 L1698.5,1423.6 L1700.5,1423.7 L1702.5,1423.7 L1704.5,1423.8 L1706.5,1423.9 L1708.5,1424.0 L1710.5,1424.0 L1712.5,1424.1 L1714.5,1424.2 L1716.5,1424.3 L1718.5,1424.4 L1720.5,1424.5 L1722.5,1424.6 L1724.5,1424.7 L1726.5,1424.8 L1728.4,1424.9 L1730.4,1425.0 L1732.4,1425.1 L1734.4,1425.2 L1736.4,1425.3 L1738.4,1425.4 L1740.4,1425.5 L1742.4,1425.6 L1744.4,1425.7 L1746.4,1425.8 L1748.4,1425.9 L1750.4,1426.0 L1752.4,1426.1 L1754.4,1426.1 L1756.4,1426.2 L1758.4,1426.2 L1760.4,1426.2 L1762.4,1426.2 L1764.4,1426.2 L1766.4,1426.2 L1768.4,1426.3 L1770.4,1426.3 L1772.4,1426.3 L1774.4,1426.3 L1776.4,1426.3 L1778.4,1426.3 L1780.4,1426.3 L1782.4,1426.4 L1784.4,1426.4 L1786.4,1426.5 L1788.4,1426.5 L1790.4,1426.6 L1792.4,1426.6 L1794.4,1426.7 L1796.4,1426.7 L1798.4,1426.8 L1800.4,1426.9 L1802.4,1426.9 L1804.4,1427.0 L1806.4,1427.0 L1808.4,1427.1 L1810.4,1427.1 L1812.4,1427.1 L1814.4,1427.2 L1816.4,1427.2 L1818.4,1427.3 L1820.4,1427.3 L1822.4,1427.3 L1824.4,1427.4 L1826.4,1427.4 L1828.4,1427.5 L1830.4,1427.5 L1832.4,1427.5 L1834.4,1427.6 L1836.4,1427.6 L1838.4,1427.7 L1840.4,1427.7 L1842.4,1427.8 L1844.4,1427.8 L1846.4,1427.8 L1848.4,1427.9 L1850.4,1428.0 L1852.4,1428.0 L1854.4,1428.1 L1856.4,1428.2 L1858.4,1428.4 L1860.4,1428.5 L1862.4,1428.6 L1864.4,1428.8 L1866.4,1428.9 L1868.3,1429.0 L1870.3,1429.1 L1872.3,1429.1 L1874.3,1429.2 L1876.3,1429.2 L1878.3,1429.2 L1880.3,1429.2 L1882.3,1429.2 L1884.3,1429.2 L1886.3,1429.1 L1888.3,1429.1 L1890.3,1429.1 L1892.3,1429.1 L1894.3,1429.1 L1896.3,1429.0 L1898.3,1429.0 L1900.3,1429.0 L1902.3,1429.0 L1904.3,1429.0 L1906.3,1429.0 L1908.3,1429.0 L1910.3,1429.0 L1912.3,1429.0 L1914.3,1429.1 L1916.3,1429.1 L1918.3,1429.2 L1920.3,1429.3 L1922.3,1429.3 L1924.3,1429.4 L1926.3,1429.5 L1928.3,1429.6 L1930.3,1429.6 L1932.3,1429.7 L1934.3,1429.8 L1936.3,1429.8 L1938.3,1429.9 L1940.3,1430.0 L1942.3,1430.0 L1944.3,1430.1 L1946.3,1430.1 L1948.3,1430.2 L1950.3,1430.2 L1952.3,1430.3 L1954.3,1430.3 L1956.3,1430.3 L1958.3,1430.3 L1960.3,1430.3 L1962.3,1430.3 L1964.3,1430.3 L1966.3,1430.3 L1968.3,1430.3 L1970.3,1430.3 L1972.3,1430.3 L1974.3,1430.3 L1976.3,1430.3 L1978.3,1430.3 L1980.3,1430.3 L1982.3,1430.3 L1984.3,1430.3 L1986.3,1430.3 L1988.3,1430.3 L1990.3,1430.3 L1992.3,1430.3 L1994.3,1430.3 L1996.3,1430.3 L1998.3,1430.3 L2000.3,1430.3 L2002.3,1430.3 L2004.3,1430.3 L2006.3,1430.3 L2008.3,1430.3 L2010.3,1430.3 L2012.3,1430.3 L2014.3,1430.3 L2016.3,1430.3 L2018.3,1430.3 L2020.3,1430.3 L2022.3,1430.3 L2024.3,1430.3 L2026.3,1430.3 L2028.3,1430.4 L2030.3,1430.4 L2032.3,1430.4 L2034.3,1430.4 L2036.3,1430.5 L2038.3,1430.5 L2040.3,1430.6 L2042.3,1430.6 L2044.3,1430.7 L2046.3,1430.7 L2048.3,1430.8 L2050.3,1430.8 L2052.3,1430.9 L2054.3,1430.9 L2056.3,1431.0 L2058.3,1431.0 L2060.3,1431.1 L2062.3,1431.1 L2064.3,1431.2 L2066.3,1431.2 L2068.3,1431.2 L2070.3,1431.3 L2072.3,1431.3 L2074.3,1431.3 L2076.3,1431.3 L2078.3,1431.3 L2080.3,1431.3 L2082.3,1431.3 L2084.3,1431.3 L2086.3,1431.3 L2088.3,1431.3 L2090.3,1431.3 L2092.3,1431.3 L2094.3,1431.3 L2096.3,1431.3 L2098.3,1431.3 L2100.3,1431.3 L2102.3,1431.3 L2104.3,1431.3 L2106.3,1431.3 L2108.3,1431.3 L2110.3,1431.3 L2112.3,1431.3 L2114.3,1431.3 L2116.3,1431.3 L2118.3,1431.3 L2120.3,1431.3 L2122.3,1431.3 L2124.3,1431.3 L2126.3,1431.3 L2128.3,1431.3 L2130.3,1431.3 L2132.3,1431.3 L2134.3,1431.3 L2136.3,1431.3 L2138.3,1431.3 L2140.3,1431.3 L2142.3,1431.3 L2144.3,1431.4 L2146.3,1431.4 L2148.3,1431.5 L2150.3,1431.6 L2152.3,1431.7 L2154.3,1431.8 L2156.3,1432.0 L2158.3,1432.2 L2160.3,1432.3 L2162.2,1432.5 L2164.2,1432.7 L2166.2,1432.8 L2168.2,1433.0 L2170.2,1433.1 L2172.2,1433.2 L2174.2,1433.3 L2176.2,1433.3 L2178.2,1433.3 L2180.2,1433.3 L2182.2,1433.2 L2184.2,1433.1 L2186.2,1432.9 L2188.2,1432.8 L2190.2,1432.7 L2192.2,1432.5 L2194.1,1432.4 L2196.1,1432.2 L2198.1,1432.1 L2200.1,1431.9 L2202.1,1431.8 L2204.1,1431.7 L2206.1,1431.6 L2208.1,1431.6 L2210.1,1431.5 L2212.1,1431.5 L2214.1,1431.6 L2216.1,1431.6 L2218.1,1431.6 L2220.1,1431.7 L2222.1,1431.8 L2224.1,1431.8 L2226.1,1431.9 L2228.1,1432.0 L2230.1,1432.0 L2232.1,1432.1 L2234.1,1432.2 L2236.1,1432.3 L2238.1,1432.4 L2240.1,1432.5 L2242.1,1432.6 L2244.1,1432.7 L2246.1,1432.9 L2248.1,1433.0 L2250.1,1433.1 L2252.0,1433.2 L2254.0,1433.2 L2256.0,1433.2 L2258.0,1433.2 L2260.0,1433.0 L2262.0,1432.9 L2264.0,1432.7 L2265.9,1432.4 L2267.9,1432.1 L2269.9,1431.9 L2271.9,1431.6 L2273.8,1431.4 L2275.8,1431.2 L2277.8,1431.0 L2279.8,1431.0 L2281.8,1431.0 L2283.7,1431.0 L2285.7,1431.2 L2287.7,1431.3 L2289.6,1431.5 L2291.5,1431.8 L2293.4,1432.0 L2295.1,1432.2 L2296.6,1432.4 L2297.9,1432.5 L2301.0,1432.9" fill="none" stroke="#000" stroke-width="7.5" stroke-linejoin="round"/>
<path d="M1597.8,417.3 H1755.2" stroke="#000" stroke-width="7.3" stroke-linecap="round"/>
<path d="M1597.8,504.2 H1755.2" stroke="#ff0000" stroke-width="7.3" stroke-linecap="round"/>
<text id="y00" x="222.4" y="1455.6" text-anchor="end" style="font-family:&quot;Liberation Sans&quot;,Arial,sans-serif;font-size:71px" transform="translate(0 1455.6) scale(1 1.03) translate(0 -1455.6)">0.0</text>
<text id="y02" x="222.4" y="1037.3" text-anchor="end" style="font-family:&quot;Liberation Sans&quot;,Arial,sans-serif;font-size:71px" transform="translate(0 1037.3) scale(1 1.03) translate(0 -1037.3)">0.2</text>
<text id="y04" x="222.4" y="618.9" text-anchor="end" style="font-family:&quot;Liberation Sans&quot;,Arial,sans-serif;font-size:71px" transform="translate(0 618.9) scale(1 1.03) translate(0 -618.9)">0.4</text>
<text id="y06" x="222.4" y="200.6" text-anchor="end" style="font-family:&quot;Liberation Sans&quot;,Arial,sans-serif;font-size:71px" transform="translate(0 200.6) scale(1 1.03) translate(0 -200.6)">0.6</text>
<text id="x400" x="257.2" y="1629.8" text-anchor="middle" style="font-family:&quot;Liberation Sans&quot;,Arial,sans-serif;font-size:71px" transform="translate(0 1629.8) scale(1 1.03) translate(0 -1629.8)">400</text>
<text id="x500" x="767.8" y="1629.8" text-anchor="middle" style="font-family:&quot;Liberation Sans&quot;,Arial,sans-serif;font-size:71px" transform="translate(0 1629.8) scale(1 1.03) translate(0 -1629.8)">500</text>
<text id="x600" x="1278.4" y="1629.8" text-anchor="middle" style="font-family:&quot;Liberation Sans&quot;,Arial,sans-serif;font-size:71px" transform="translate(0 1629.8) scale(1 1.03) translate(0 -1629.8)">600</text>
<text id="x700" x="1789" y="1629.8" text-anchor="middle" style="font-family:&quot;Liberation Sans&quot;,Arial,sans-serif;font-size:71px" transform="translate(0 1629.8) scale(1 1.03) translate(0 -1629.8)">700</text>
<text id="x800" x="2299.6" y="1629.8" text-anchor="middle" style="font-family:&quot;Liberation Sans&quot;,Arial,sans-serif;font-size:71px" transform="translate(0 1629.8) scale(1 1.03) translate(0 -1629.8)">800</text>
<text id="ylab" x="89.1" y="1043.9" text-anchor="start" style="font-family:&quot;Liberation Serif&quot;,&quot;Times New Roman&quot;,serif;font-size:86px" transform="rotate(-90 89.1 1043.9)">Absorbance</text>
<text id="xlab" x="995.5" y="1765" text-anchor="start" style="font-family:&quot;Liberation Serif&quot;,&quot;Times New Roman&quot;,serif;font-size:85.4px">Wavelength /nm</text>
<text id="leg1" x="1771" y="442.4" text-anchor="start" style="font-family:&quot;Liberation Serif&quot;,&quot;Times New Roman&quot;,serif;font-size:71px">Red lead</text>
<text id="leg2" x="1771" y="528" text-anchor="start" style="font-family:&quot;Liberation Serif&quot;,&quot;Times New Roman&quot;,serif;font-size:71px">Massicot</text>
<text id="a1" x="962.3" y="145.4" text-anchor="start" style="font-family:&quot;Liberation Serif&quot;,&quot;Times New Roman&quot;,serif;font-size:64px">0.5942</text>
<text id="a2" x="947.2" y="979.2" text-anchor="start" style="font-family:&quot;Liberation Serif&quot;,&quot;Times New Roman&quot;,serif;font-size:64px">0.2008</text>
<text id="a3" x="944" y="1463.9" text-anchor="start" style="font-family:&quot;Liberation Serif&quot;,&quot;Times New Roman&quot;,serif;font-size:64px">(532 nm)</text>
<text id="a4" x="2102.7" y="1172.5" text-anchor="start" style="font-family:&quot;Liberation Serif&quot;,&quot;Times New Roman&quot;,serif;font-size:64px">(785 nm)</text>
<text id="a5" x="2038.1" y="1311.2" text-anchor="start" style="font-family:&quot;Liberation Serif&quot;,&quot;Times New Roman&quot;,serif;font-size:64px">0.0468</text>
<text id="a6" x="2033.2" y="1495" text-anchor="start" style="font-family:&quot;Liberation Serif&quot;,&quot;Times New Roman&quot;,serif;font-size:64px">0.0015</text>
</svg></body></html>
